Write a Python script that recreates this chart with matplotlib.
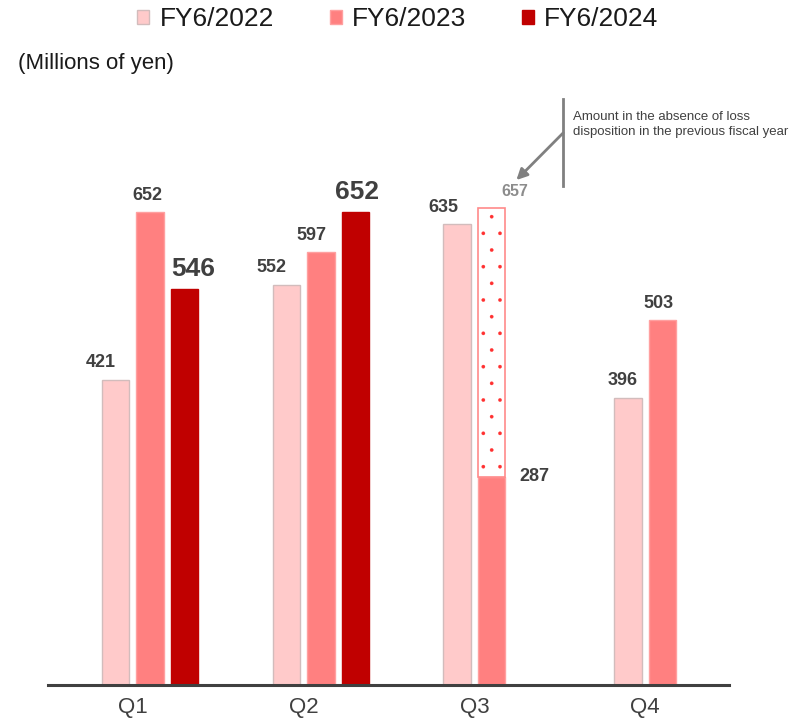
import matplotlib.pyplot as plt
import numpy as np
from matplotlib.patches import Patch

# quarterly values (millions of yen)
quarters = ['Q1', 'Q2', 'Q3', 'Q4']
fy2022 = [421, 552, 635, 396]
fy2023 = [652, 597, 287, 503]
fy2024 = [546, 652, None, None]
# Q3 FY6/2023 without the loss disposition of the previous year
q3_adjusted = 657

series_names = ['FY6/2022', 'FY6/2023', 'FY6/2024']
colors = ['#ffcaca', '#ff8080', '#c00000']
edge_colors = ['#d2bcbc', '#ffa0a0', '#c00000']
text_col = '#404040'

plt.rcParams['font.family'] = ['Liberation Sans', 'DejaVu Sans']
plt.rcParams['hatch.linewidth'] = 0.2

fig = plt.figure(figsize=(8.07, 7.21), dpi=100)
# axes placed so the baseline sits where the reference has it
ax = fig.add_axes([48 / 807, 36 / 721, (729 - 48) / 807, (685 - 80) / 721])

x = np.arange(len(quarters))
step = 0.2018
width = 0.161
offsets = [-0.5 * step, 0.5 * step, 1.5 * step]

# horizontal nudge of each value label, in points: (series, quarter)
nudge = {(0, 0): -11, (1, 0): -2, (2, 0): 6,
         (0, 1): -11, (1, 1): -7, (2, 1): 1.5,
         (0, 2): -10,
         (0, 3): -4, (1, 3): -3}

for k, vals in enumerate([fy2022, fy2023, fy2024]):
    for i, v in enumerate(vals):
        if v is None:
            continue
        xi = x[i] + offsets[k]
        ax.bar(xi, v, width, color=colors[k], edgecolor=edge_colors[k], linewidth=1.0, zorder=2)
        if (k, i) not in nudge:
            continue
        big = (k == 2)
        ax.annotate(str(v), (xi, v), xytext=(nudge[(k, i)], 6), textcoords='offset points',
                    ha='center', va='bottom', fontsize=19 if big else 13,
                    fontweight='bold', color=text_col)

# dotted bar on top of Q3 FY6/2023
xq3 = x[2] + offsets[1]
ax.bar(xq3, q3_adjusted - fy2023[2], width, bottom=fy2023[2], color='white',
       edgecolor='#ff3030', linewidth=0, hatch='.', zorder=2)
ax.bar(xq3, q3_adjusted - fy2023[2], width, bottom=fy2023[2], fill=False,
       edgecolor='#ff8a8a', linewidth=1.2, zorder=3)
ax.annotate(str(fy2023[2]), (xq3 + width / 2, fy2023[2]), xytext=(10, 0),
            textcoords='offset points', ha='left', va='center',
            fontsize=13, fontweight='bold', color=text_col)
ax.annotate(str(q3_adjusted), (xq3, q3_adjusted), xytext=(17, 7),
            textcoords='offset points', ha='center', va='bottom',
            fontsize=11.5, fontweight='bold', color='#8c8c8c')

# callout line, arrow and note
ax.plot([2.52, 2.52], [688, 808], color='#808080', linewidth=2, clip_on=False, zorder=4)
ax.annotate('', xy=(2.246, 696), xytext=(2.52, 761),
            arrowprops=dict(arrowstyle='-|>', color='#808080', lw=2,
                            mutation_scale=16, shrinkA=0, shrinkB=0),
            annotation_clip=False)
ax.text(2.579, 773, 'Amount in the absence of loss\ndisposition in the previous fiscal year',
        ha='left', va='center', fontsize=9.5, color=text_col, linespacing=1.3)

ax.set_xlim(-0.497, 3.491)
ax.set_ylim(0, (685 - 80) / 0.7255)
ax.set_xticks(x)
ax.set_xticklabels(quarters, fontsize=16, color=text_col)
ax.tick_params(axis='x', length=0, pad=9)
ax.set_yticks([])
for side in ['top', 'right', 'left']:
    ax.spines[side].set_visible(False)
ax.spines['bottom'].set_color('#404040')
ax.spines['bottom'].set_linewidth(2.2)

handles = [Patch(facecolor=colors[k], edgecolor=edge_colors[k]) for k in range(3)]
fig.legend(handles, series_names, loc='center', bbox_to_anchor=(398 / 807, 1 - 19 / 721),
           ncol=3, frameon=False, fontsize=19, handlelength=0.45, handleheight=0.45,
           handletextpad=0.4, columnspacing=2.1, labelcolor='#1a1a1a')

fig.text(18 / 807, 1 - 64 / 721, '(Millions of yen)', ha='left', va='center',
         fontsize=16, color='#1a1a1a')

fig.savefig('out.png', dpi=100)
